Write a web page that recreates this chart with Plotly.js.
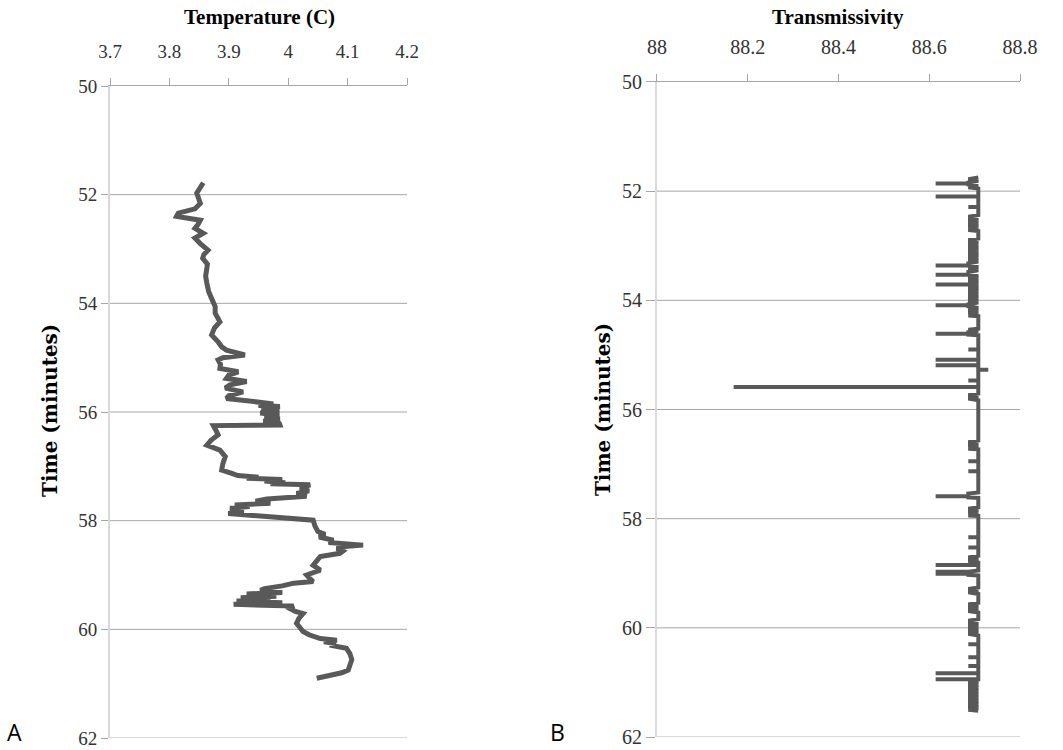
<!DOCTYPE html>
<html><head><meta charset="utf-8">
<script src="https://cdn.plot.ly/plotly-3.0.1.min.js"></script>
<style>html,body{margin:0;padding:0;background:#fff}#chart{width:1063px;height:750px}</style>
</head><body><div id="chart"></div><script>
// ---- Panel A: temperature profile ----
const tempTime = [51.78, 51.97, 52.16, 52.26, 52.34, 52.40, 52.43, 52.47, 52.55, 52.62,
  52.71, 52.80, 52.90, 53.02, 53.10, 53.17, 53.28, 53.39, 53.50, 53.63,
  53.78, 53.91, 54.06, 54.18, 54.26, 54.34, 54.45, 54.58, 54.71, 54.80,
  54.86, 54.95, 55.00, 55.04, 55.12, 55.20, 55.26, 55.32, 55.38, 55.44,
  55.50, 55.56, 55.63, 55.70, 55.75, 55.81, 55.85, 55.88, 55.90, 55.94,
  55.98, 56.02, 56.06, 56.10, 56.13, 56.17, 56.21, 56.24, 56.25, 56.33,
  56.42, 56.52, 56.61, 56.70, 56.76, 56.82, 56.95, 57.07, 57.13, 57.17,
  57.20, 57.22, 57.24, 57.27, 57.30, 57.32, 57.34, 57.40, 57.45, 57.50,
  57.55, 57.58, 57.60, 57.64, 57.68, 57.71, 57.74, 57.77, 57.82, 57.87,
  57.90, 57.93, 57.97, 57.99, 58.10, 58.20, 58.25, 58.30, 58.36, 58.40,
  58.45, 58.48, 58.51, 58.56, 58.60, 58.66, 58.74, 58.82, 58.91, 59.00,
  59.06, 59.12, 59.15, 59.20, 59.25, 59.28, 59.32, 59.35, 59.39, 59.42,
  59.45, 59.48, 59.51, 59.54, 59.57, 59.62, 59.67, 59.71, 59.80, 59.89,
  59.97, 60.04, 60.10, 60.14, 60.17, 60.20, 60.23, 60.26, 60.29, 60.35,
  60.45, 60.56, 60.66, 60.75, 60.80, 60.84, 60.87, 60.90];
const tempValue = [3.857, 3.846, 3.852, 3.843, 3.815, 3.812, 3.829, 3.852, 3.848, 3.843,
  3.857, 3.843, 3.852, 3.865, 3.858, 3.856, 3.864, 3.862, 3.861, 3.863,
  3.866, 3.871, 3.877, 3.877, 3.882, 3.885, 3.876, 3.871, 3.882, 3.888,
  3.896, 3.927, 3.890, 3.882, 3.886, 3.885, 3.916, 3.900, 3.896, 3.930,
  3.902, 3.894, 3.924, 3.900, 3.896, 3.936, 3.975, 3.950, 3.986, 3.955,
  3.985, 3.953, 3.985, 3.960, 3.986, 3.958, 3.985, 3.986, 3.874, 3.878,
  3.882, 3.870, 3.863, 3.885, 3.890, 3.894, 3.890, 3.888, 3.905, 3.915,
  3.950, 3.930, 3.990, 3.960, 3.995, 3.970, 4.037, 4.020, 4.035, 4.014,
  4.031, 3.990, 3.964, 3.945, 3.970, 3.910, 3.935, 3.902, 3.925, 3.899,
  3.930, 3.958, 4.000, 4.042, 4.045, 4.050, 4.062, 4.052, 4.076, 4.068,
  4.126, 4.090, 4.082, 4.092, 4.087, 4.054, 4.048, 4.042, 4.054, 4.031,
  4.036, 4.042, 4.009, 3.990, 3.960, 3.953, 3.990, 3.930, 3.980, 3.920,
  3.970, 3.913, 3.990, 3.908, 4.009, 4.003, 4.012, 4.025, 4.018, 4.014,
  4.020, 4.025, 4.035, 4.050, 4.054, 4.082, 4.060, 4.080, 4.070, 4.098,
  4.104, 4.107, 4.103, 4.101, 4.090, 4.070, 4.058, 4.048];

// ---- Panel B: transmissivity profile ----
const transTime = [51.75, 51.78, 51.81, 51.84, 51.86, 51.86, 51.86, 51.88, 51.91, 51.93, 51.95,
  52.10, 52.10, 52.10,
  52.29, 52.29, 52.29,
  52.44, 52.47, 52.50, 52.53, 52.56, 52.59, 52.62, 52.65, 52.68, 52.71, 52.73,
  52.87, 52.90, 52.93, 52.96, 52.99, 53.02, 53.05, 53.08, 53.11, 53.14, 53.17, 53.20, 53.23, 53.26, 53.29, 53.32,
  53.36, 53.36, 53.36, 53.39, 53.42, 53.45, 53.48,
  53.53, 53.53, 53.53, 53.56, 53.59, 53.62, 53.65, 53.68,
  53.71, 53.71, 53.71, 53.74, 53.77, 53.80, 53.83, 53.86, 53.89, 53.92, 53.95, 53.98, 54.01, 54.04, 54.07,
  54.09, 54.09, 54.09, 54.11, 54.14, 54.17, 54.20, 54.23, 54.26, 54.28, 54.29,
  54.52, 54.54, 54.56, 54.58, 54.61, 54.61, 54.61, 54.63, 54.64,
  54.90, 54.90, 54.90,
  55.09, 55.09, 55.09,
  55.19, 55.19, 55.19,
  55.27, 55.27, 55.27,
  55.47, 55.47, 55.47,
  55.59, 55.59, 55.59,
  55.71, 55.74, 55.77, 55.80, 55.83,
  56.57, 56.60, 56.63, 56.66, 56.69, 56.72, 56.73,
  56.95, 56.95, 56.95,
  57.13, 57.13, 57.13,
  57.52, 57.54, 57.56, 57.59, 57.59, 57.59, 57.61, 57.62,
  57.79, 57.82, 57.85, 57.88, 57.91, 57.94, 57.95,
  58.34, 58.34, 58.34,
  58.53, 58.53, 58.53,
  58.68, 58.71, 58.74, 58.77, 58.80,
  58.85, 58.85, 58.85,
  58.95, 58.97, 58.97, 58.97, 59.01, 59.01, 59.01, 59.03, 59.04,
  59.26, 59.29, 59.32, 59.35, 59.38,
  59.54, 59.57, 59.60, 59.63, 59.66, 59.69, 59.72,
  59.84, 59.87, 59.90, 59.93, 59.96, 59.99, 60.02, 60.05, 60.08, 60.11, 60.14,
  60.30, 60.30, 60.30,
  60.54, 60.54, 60.54,
  60.70, 60.70, 60.70,
  60.83, 60.83, 60.83,
  60.94, 60.94, 60.94,
  60.97, 61.00, 61.03, 61.06, 61.09, 61.12, 61.15, 61.18, 61.21, 61.24, 61.27, 61.30,
  61.33, 61.36, 61.39, 61.42, 61.45, 61.48, 61.50, 61.52];
const transValue = [88.708, 88.686, 88.708, 88.686, 88.686, 88.614, 88.686, 88.686, 88.708, 88.686, 88.708,
  88.708, 88.614, 88.708,
  88.708, 88.686, 88.708,
  88.708, 88.686, 88.708, 88.686, 88.708, 88.686, 88.708, 88.686, 88.708, 88.686, 88.708,
  88.708, 88.686, 88.708, 88.686, 88.708, 88.686, 88.708, 88.686, 88.708, 88.686, 88.708, 88.686, 88.708, 88.686, 88.708, 88.686,
  88.686, 88.614, 88.686, 88.708, 88.686, 88.708, 88.686,
  88.686, 88.614, 88.686, 88.708, 88.686, 88.708, 88.686, 88.708,
  88.686, 88.614, 88.686, 88.708, 88.686, 88.708, 88.686, 88.708, 88.686, 88.708, 88.686, 88.708, 88.686, 88.708, 88.686,
  88.686, 88.614, 88.686, 88.686, 88.708, 88.686, 88.708, 88.686, 88.708, 88.686, 88.708,
  88.708, 88.686, 88.708, 88.686, 88.686, 88.614, 88.686, 88.686, 88.708,
  88.708, 88.686, 88.708,
  88.708, 88.614, 88.708,
  88.708, 88.614, 88.708,
  88.708, 88.730, 88.708,
  88.708, 88.686, 88.708,
  88.708, 88.169, 88.708,
  88.708, 88.686, 88.708, 88.686, 88.708,
  88.708, 88.686, 88.708, 88.686, 88.708, 88.686, 88.708,
  88.708, 88.686, 88.708,
  88.708, 88.686, 88.708,
  88.708, 88.686, 88.686, 88.686, 88.614, 88.686, 88.686, 88.708,
  88.708, 88.686, 88.708, 88.686, 88.708, 88.686, 88.708,
  88.708, 88.686, 88.708,
  88.708, 88.686, 88.708,
  88.708, 88.686, 88.708, 88.686, 88.708,
  88.708, 88.614, 88.708,
  88.708, 88.686, 88.614, 88.686, 88.686, 88.614, 88.686, 88.686, 88.708,
  88.708, 88.686, 88.708, 88.686, 88.708,
  88.708, 88.686, 88.708, 88.686, 88.708, 88.686, 88.708,
  88.708, 88.686, 88.708, 88.686, 88.708, 88.686, 88.708, 88.686, 88.708, 88.686, 88.708,
  88.708, 88.686, 88.708,
  88.708, 88.686, 88.708,
  88.708, 88.686, 88.708,
  88.708, 88.614, 88.708,
  88.708, 88.614, 88.708,
  88.686, 88.708, 88.686, 88.708, 88.686, 88.708, 88.686, 88.708, 88.686, 88.708, 88.686, 88.708,
  88.686, 88.708, 88.686, 88.708, 88.686, 88.708, 88.686, 88.708];

// axis ticks / labels
const timeGrid = [52, 54, 56, 58, 60];
const timeRange = [62, 50];
const tempRange = [3.7, 4.2];
const transRange = [88, 88.8];
const panelLabels = ['A', 'B'];
const titles = {tempX: 'Temperature (C)', transX: 'Transmissivity', y: 'Time (minutes)'};

const serif = 'Liberation Serif, Times New Roman, serif';
const boldSerif = 'DejaVu Serif, serif';
const lineColor = '#595959';
const gridColor = '#a6a6a6';
const axisColor = '#d9d9d9';
const tickFontA = {family: serif, size: 19, color: '#333333'};
const tickFontB = {family: serif, size: 20, color: '#333333'};

const traces = [
  {x: tempValue, y: tempTime, type: 'scatter', mode: 'lines', xaxis: 'x', yaxis: 'y',
   line: {color: lineColor, width: 5}, hoverinfo: 'skip'},
  {x: transValue, y: transTime, type: 'scatter', mode: 'lines', xaxis: 'x2', yaxis: 'y2',
   line: {color: lineColor, width: 4}, hoverinfo: 'skip'}
];

function xAx(domain, range, dtick, anchor, font) {
  return {domain: domain, range: range, tick0: range[0], dtick: dtick, anchor: anchor, side: 'top',
    ticks: 'outside', ticklen: 7, tickcolor: gridColor, showline: true, linecolor: gridColor, linewidth: 1,
    showgrid: false, zeroline: false, tickfont: font, ticklabelstandoff: 12, fixedrange: true};
}
function yAx(domain, anchor, font, ticklen) {
  return {domain: domain, range: timeRange, tick0: 50, dtick: 2, anchor: anchor,
    ticks: 'outside', ticklen: ticklen, tickcolor: gridColor, showline: true, linecolor: axisColor, linewidth: 2,
    showgrid: false, zeroline: false, tickfont: font, fixedrange: true};
}

const shapes = [];
[['x', 'y'], ['x2', 'y2']].forEach(function (p) {
  timeGrid.forEach(function (t) {
    shapes.push({type: 'line', xref: p[0] + ' domain', yref: p[1], x0: 0, x1: 1, y0: t, y1: t,
      line: {color: gridColor, width: 1}, layer: 'below'});
  });
  shapes.push({type: 'line', xref: p[0] + ' domain', yref: p[1], x0: 0, x1: 1, y0: timeRange[0], y1: timeRange[0],
    line: {color: axisColor, width: 2}, layer: 'below'});
});

function ann(text, x, y, font, angle, yanchor) {
  return {text: text, xref: 'paper', yref: 'paper', x: x, y: y, xanchor: 'center', yanchor: yanchor || 'middle',
    showarrow: false, textangle: angle || 0, font: font};
}
const titleFont = {family: serif, size: 21, color: '#000'};
const yTitleFont = {family: boldSerif, size: 20, color: '#000'};
const letterFont = {family: 'Open Sans, sans-serif', size: 23, color: '#000'};

const layout = {
  width: 1063, height: 750, margin: {l: 0, r: 0, t: 0, b: 0}, showlegend: false,
  paper_bgcolor: '#ffffff', plot_bgcolor: '#ffffff',
  xaxis: xAx([0.1035, 0.3829], tempRange, 0.1, 'y', tickFontA),
  yaxis: yAx([0.016, 0.8853], 'x', tickFontA, 7),
  xaxis2: xAx([0.618, 0.9596], transRange, 0.2, 'y2', tickFontB),
  yaxis2: yAx([0.0173, 0.8907], 'x2', tickFontB, 9),
  shapes: shapes,
  annotations: [
    ann('<b>' + titles.tempX + '</b>', 0.2437, 0.977, titleFont),
    ann('<b>' + titles.transX + '</b>', 0.7883, 0.977, titleFont),
    ann('<b>' + titles.y + '</b>', 0.047, 0.4533, yTitleFont, -90),
    ann('<b>' + titles.y + '</b>', 0.5673, 0.4533, yTitleFont, -90),
    ann(panelLabels[0], 0.0141, 0.0, letterFont, 0, 'bottom'),
    ann(panelLabels[1], 0.524, 0.0, letterFont, 0, 'bottom')
  ]
};

Plotly.newPlot('chart', traces, layout, {displayModeBar: false, staticPlot: true});
</script></body></html>
